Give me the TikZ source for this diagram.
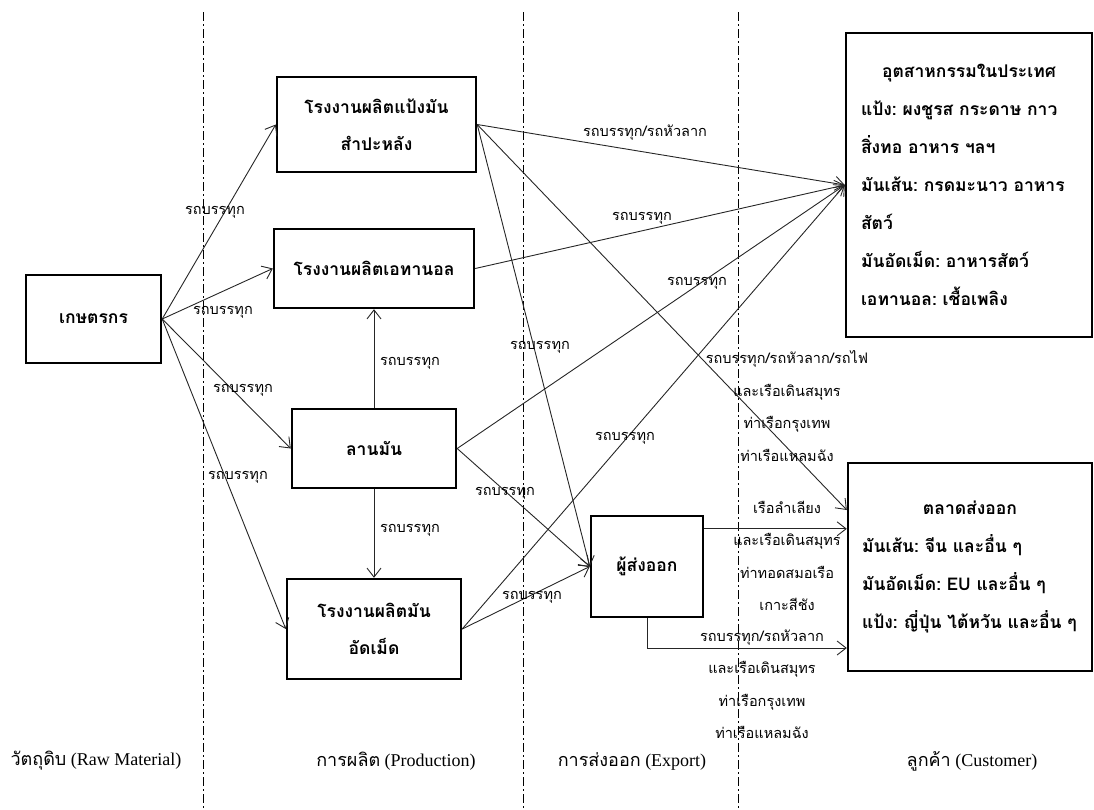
\documentclass[tikz,border=0pt]{standalone}
\usepackage{fontspec}
\setmainfont{Liberation Serif}
\newfontfamily\thaifont[Script=Thai]{Loma}
\usetikzlibrary{arrows.meta}
\frenchspacing

\begin{document}
\begin{tikzpicture}[
  x=1pt, y=-1pt,
  box/.style={draw, line width=2.4pt, inner sep=0pt, align=center,
              font=\thaifont\bfseries\fontsize{17.5}{37}\selectfont},
  listbox/.style={draw, line width=2.4pt, inner sep=0pt, align=left,
                  font=\thaifont\bfseries\fontsize{17.5}{38}\selectfont},
  lbl/.style={font=\thaifont\fontsize{14.5}{32.5}\selectfont, align=center, inner sep=0pt},
  zone/.style={font=\fontsize{18}{20}\selectfont, inner sep=0pt},
  divider/.style={line width=0.9pt, dash pattern=on 9pt off 3pt on 2pt off 3pt},
  flow/.style={-{Straight Barb[length=9pt,width=14pt]}, line width=0.9pt, draw=black!85},
]
\useasboundingbox (0,0) rectangle (1094,809);

% --- Stage dividers ---
\foreach \x in {203, 523, 738} {
  \draw[divider] (\x,12) -- (\x,809);
}

% --- Boxes ---
\node[box, minimum width=135pt, minimum height=88pt] (farmer) at (93.5,319) {เกษตรกร};
\node[box, minimum width=199pt, minimum height=95pt] (starch) at (376.5,124.5) {โรงงานผลิตแป้งมัน\\สำปะหลัง};
\node[box, minimum width=200pt, minimum height=79pt] (ethanol) at (374,268.5) {โรงงานผลิตเอทานอล};
\node[box, minimum width=164pt, minimum height=79pt] (yard) at (374,448.5) {ลานมัน};
\node[box, minimum width=174pt, minimum height=100pt] (pellet) at (374,629) {โรงงานผลิตมัน\\อัดเม็ด};
\node[box, minimum width=112pt, minimum height=101pt] (exp) at (647,566.5) {ผู้ส่งออก};

\node[listbox, minimum width=246pt, minimum height=304pt, text width=216pt] (ind) at (969,185)
  {\makebox[\hsize]{อุตสาหกรรมในประเทศ}\\
   แป้ง: ผงชูรส กระดาษ กาว\\
   สิ่งทอ อาหาร ฯลฯ\\
   มันเส้น: กรดมะนาว อาหาร\\
   สัตว์\\
   มันอัดเม็ด: อาหารสัตว์\\
   เอทานอล: เชื้อเพลิง};
\node[listbox, minimum width=244pt, minimum height=208pt, text width=216pt] (mkt) at (970,567)
  {\makebox[\hsize]{ตลาดส่งออก}\\
   มันเส้น: จีน และอื่น ๆ\\
   มันอัดเม็ด: EU และอื่น ๆ\\
   แป้ง: ญี่ปุ่น ไต้หวัน และอื่น ๆ};

% --- Raw material to production ---
\foreach \t in {starch, ethanol, yard, pellet} {
  \draw[flow] (farmer.east) -- (\t.west);
}
\draw[flow] (yard.north) -- (ethanol.south);
\draw[flow] (yard.south) -- (pellet.north);

% --- Production to customers and exporter ---
\foreach \s in {starch, ethanol, yard, pellet} {
  \draw[flow] (\s.east) -- (ind.west);
}
\foreach \s in {starch, yard, pellet} {
  \draw[flow] (\s.east) -- (exp.west);
}
\draw[flow] (starch.east) -- ([yshift=57pt]mkt.west);
\draw[flow] ([yshift=-14pt]exp.north east) -- ([yshift=-14pt]exp.north east -| mkt.west);
\draw[flow] (exp.south) |- ([yshift=-81pt]mkt.west);

% --- Transport labels ---
\node[lbl] (l1) at (215,212) {รถบรรทุก};
\node[lbl] (l2) at (223,312) {รถบรรทุก};
\node[lbl] (l3) at (243,390) {รถบรรทุก};
\node[lbl] (l4) at (238,477) {รถบรรทุก};
\node[lbl] (l5) at (410,363) {รถบรรทุก};
\node[lbl] (l6) at (410,530) {รถบรรทุก};
\node[lbl] (l7) at (645,133) {รถบรรทุก/รถหัวลาก};
\node[lbl] (l8) at (642,218) {รถบรรทุก};
\node[lbl] (l9) at (697,283) {รถบรรทุก};
\node[lbl] (l10) at (540,347) {รถบรรทุก};
\node[lbl] (l11) at (625,438) {รถบรรทุก};
\node[lbl] (l12) at (505,493) {รถบรรทุก};
\node[lbl] (l13) at (532,597) {รถบรรทุก};
\node[lbl] (l14) at (787,406) {รถบรรทุก/รถหัวลาก/รถไฟ\\และเรือเดินสมุทร\\ท่าเรือกรุงเทพ\\ท่าเรือแหลมฉัง};
\node[lbl] (l15) at (787,556) {เรือลำเลียง\\และเรือเดินสมุทร\\ท่าทอดสมอเรือ\\เกาะสีชัง};
\node[lbl] (l16) at (762,684) {รถบรรทุก/รถหัวลาก\\และเรือเดินสมุทร\\ท่าเรือกรุงเทพ\\ท่าเรือแหลมฉัง};

% --- Stage titles ---
\node[zone] (zraw) at (96,761) {{\thaifont วัตถุดิบ} (Raw Material)};
\node[zone] (zprod) at (396,761) {{\thaifont การผลิต} (Production)};
\node[zone] (zexp) at (632,761) {{\thaifont การส่งออก} (Export)};
\node[zone] (zcus) at (972,761) {{\thaifont ลูกค้า} (Customer)};

\end{tikzpicture}
\end{document}
